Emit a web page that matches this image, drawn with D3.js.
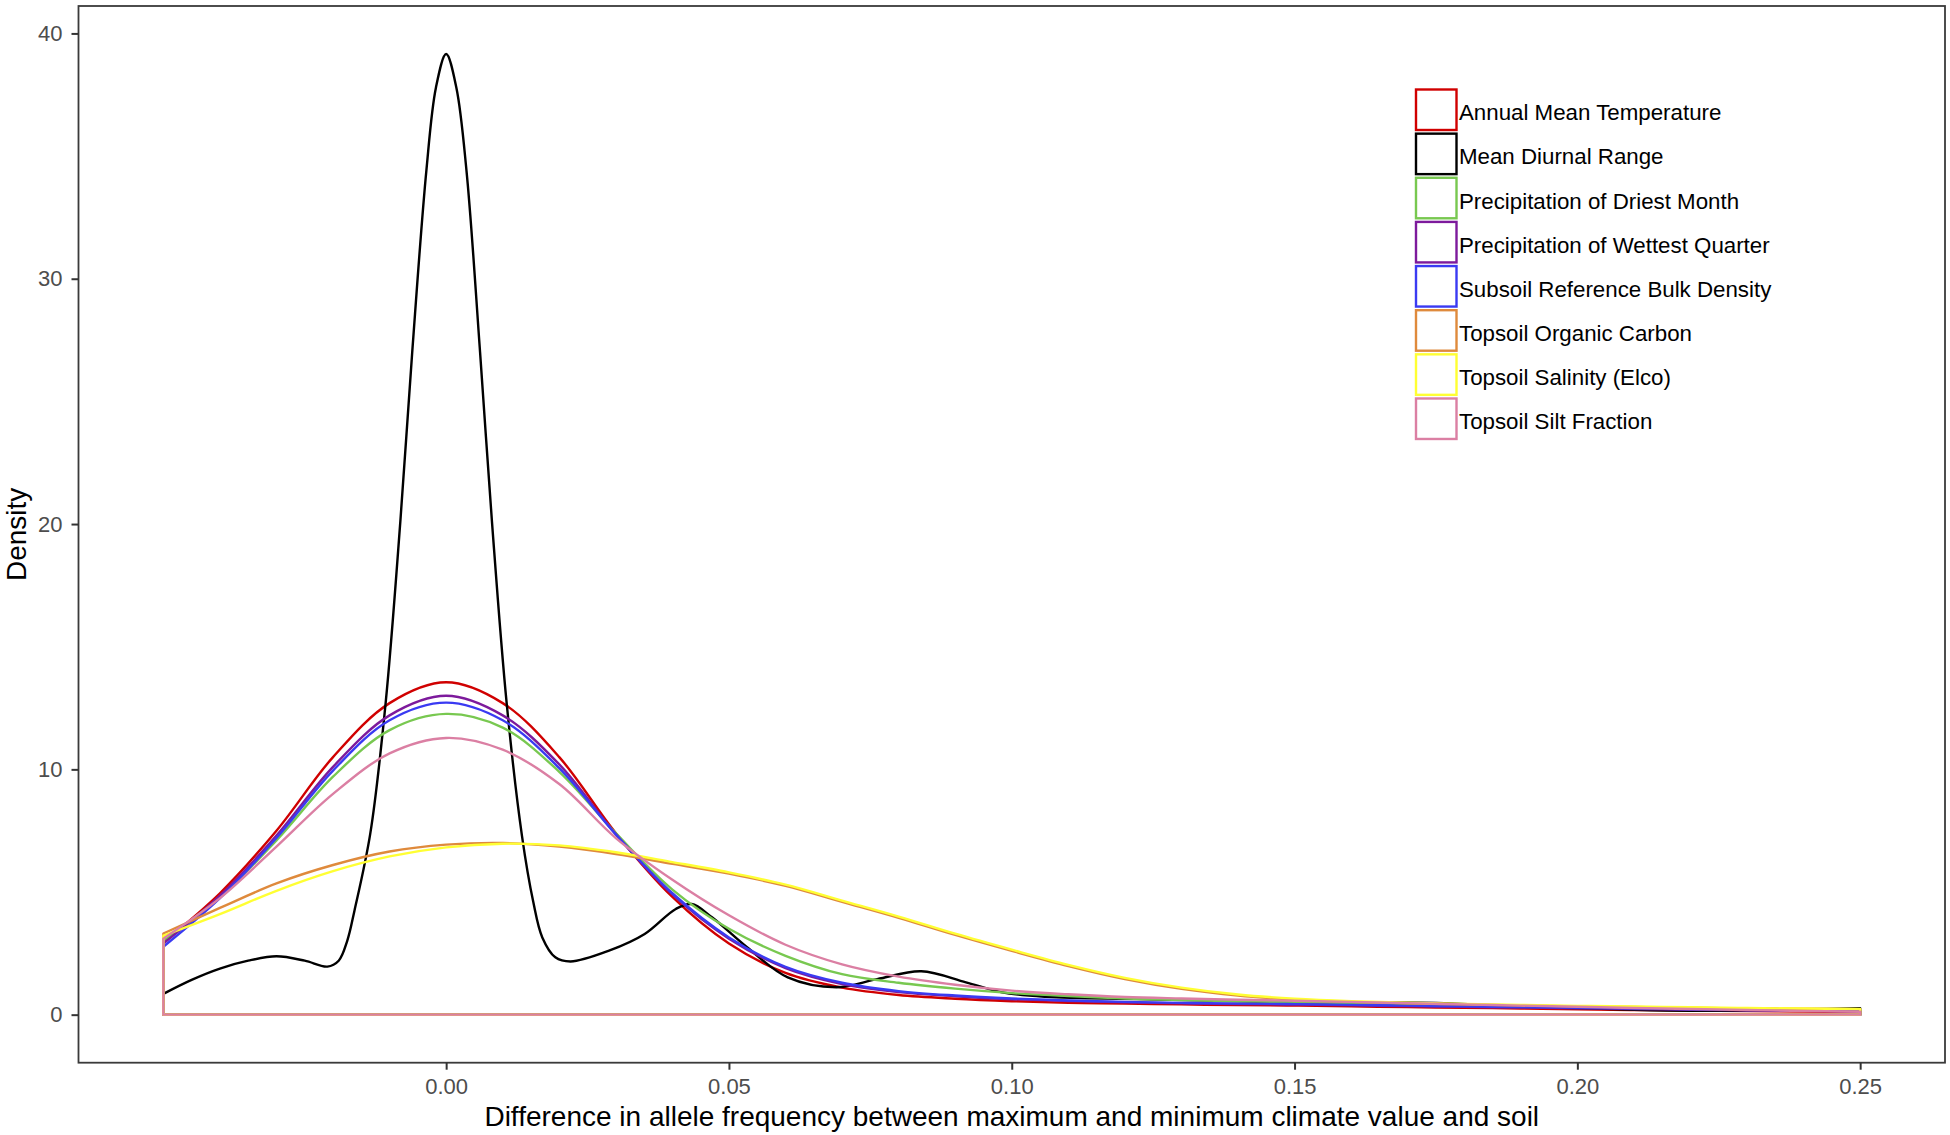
<!DOCTYPE html>
<html>
<head>
<meta charset="utf-8">
<script src="https://cdn.jsdelivr.net/npm/d3@7"></script>
<style>
  body { margin: 0; background: #fff; }
  svg { display: block; font-family: "Liberation Sans", Arial, sans-serif; }
</style>
</head>
<body>
<svg id="chart"></svg>
<script>

// legend order = draw order (ggplot draws the groups in factor order)
const seriesNames = [
  'Annual Mean Temperature',
  'Mean Diurnal Range',
  'Precipitation of Driest Month',
  'Precipitation of Wettest Quarter',
  'Subsoil Reference Bulk Density',
  'Topsoil Organic Carbon',
  'Topsoil Salinity (Elco)',
  'Topsoil Silt Fraction'
];
const seriesColors = ['#d00000', '#000000', '#78c850', '#7d1a9c', '#3a3af2', '#df8a3c', '#ffff33', '#db7fa3'];

// density estimates, x step 0.01
const xGrid = [-0.05, -0.04, -0.03, -0.02, -0.01, 0, 0.01, 0.02, 0.03, 0.04, 0.05, 0.06, 0.07, 0.08, 0.09, 0.10,
  0.11, 0.12, 0.13, 0.14, 0.15, 0.16, 0.17, 0.18, 0.19, 0.20, 0.21, 0.22, 0.23, 0.24, 0.25];

const annualMeanTemp = [2.95, 4.95, 7.5, 10.5, 12.7, 13.55, 12.7, 10.5, 7.4, 4.8, 2.9, 1.7, 1.1, 0.8, 0.65, 0.55,
  0.48, 0.45, 0.42, 0.39, 0.37, 0.34, 0.31, 0.28, 0.25, 0.22, 0.19, 0.17, 0.15, 0.13, 0.11];
const precipDriestMonth = [3.0, 4.8, 7.1, 9.7, 11.6, 12.26, 11.7, 9.9, 7.4, 5.1, 3.5, 2.4, 1.65, 1.3, 1.06, 0.88,
  0.76, 0.66, 0.6, 0.55, 0.51, 0.47, 0.43, 0.39, 0.35, 0.31, 0.28, 0.25, 0.22, 0.2, 0.18];
const precipWettestQuarter = [2.9, 4.85, 7.3, 10.1, 12.2, 13.0, 12.2, 10.2, 7.35, 4.9, 3.1, 1.9, 1.25, 0.92, 0.75, 0.63,
  0.56, 0.5, 0.46, 0.43, 0.41, 0.38, 0.35, 0.32, 0.29, 0.26, 0.23, 0.2, 0.18, 0.16, 0.14];
const subsoilBulkDensity = [2.77, 4.75, 7.2, 9.95, 12.0, 12.72, 12.0, 10.05, 7.35, 4.95, 3.15, 1.95, 1.3, 0.96, 0.78, 0.66,
  0.58, 0.52, 0.48, 0.45, 0.43, 0.4, 0.37, 0.34, 0.31, 0.28, 0.25, 0.22, 0.19, 0.17, 0.15];
const topsoilOrganicCarbon = [3.31, 4.35, 5.35, 6.1, 6.65, 6.93, 7.0, 6.85, 6.55, 6.15, 5.75, 5.25, 4.6, 3.95, 3.25, 2.6,
  1.98, 1.45, 1.05, 0.78, 0.62, 0.52, 0.46, 0.42, 0.38, 0.34, 0.31, 0.28, 0.26, 0.24, 0.22];
const topsoilSalinity = [3.22, 4.1, 5.05, 5.85, 6.45, 6.82, 6.97, 6.9, 6.62, 6.22, 5.8, 5.3, 4.65, 4.0, 3.3, 2.65,
  2.03, 1.5, 1.1, 0.82, 0.65, 0.55, 0.49, 0.44, 0.4, 0.36, 0.33, 0.3, 0.27, 0.25, 0.23];
const topsoilSiltFraction = [3.1, 4.75, 6.85, 9.0, 10.65, 11.28, 10.8, 9.4, 7.2, 5.5, 4.05, 2.85, 2.05, 1.55, 1.22, 0.98,
  0.83, 0.72, 0.66, 0.61, 0.57, 0.52, 0.47, 0.42, 0.37, 0.32, 0.27, 0.23, 0.19, 0.15, 0.12];

// the diurnal range curve is much spikier, so it gets its own denser grid
const diurnalX = [-0.05, -0.045, -0.04, -0.035, -0.03, -0.025, -0.021, -0.019, -0.0175, -0.0162, -0.0134, -0.0107,
  -0.0081, -0.006, -0.0035, -0.0018, 0, 0.0018, 0.0036, 0.006, 0.0081, 0.0107, 0.0134, 0.0154, 0.017, 0.0193, 0.022,
  0.0288, 0.0351, 0.0406, 0.0434, 0.047, 0.0532, 0.0604, 0.069, 0.0762, 0.084, 0.0919, 0.0983, 0.106, 0.122, 0.135,
  0.151, 0.165, 0.175, 0.19, 0.2, 0.21, 0.22, 0.23, 0.24, 0.25];
const meanDiurnalRange = [0.85, 1.42, 1.88, 2.2, 2.38, 2.2, 1.96, 2.2, 3.0, 4.25, 7.4, 12.7,
  20.1, 27.0, 34.4, 37.8, 39.16, 37.8, 34.4, 27.0, 20.1, 12.7, 7.3, 4.6, 3.15, 2.34, 2.17,
  2.61, 3.29, 4.31, 4.51, 3.97, 2.75, 1.52, 1.12, 1.45, 1.77, 1.32, 0.91, 0.73, 0.64, 0.58,
  0.5, 0.5, 0.48, 0.33, 0.27, 0.2, 0.16, 0.17, 0.22, 0.26];

const xTicks = [0, 0.05, 0.10, 0.15, 0.20, 0.25];
const yTicks = [0, 10, 20, 30, 40];

const xTitle = 'Difference in allele frequency between maximum and minimum climate value and soil';
const yTitle = 'Density';

// ---- build series
const zip = (xs, ys) => xs.map((d, i) => [d, ys[i]]);
const series = [
  zip(xGrid, annualMeanTemp),
  zip(diurnalX, meanDiurnalRange),
  zip(xGrid, precipDriestMonth),
  zip(xGrid, precipWettestQuarter),
  zip(xGrid, subsoilBulkDensity),
  zip(xGrid, topsoilOrganicCarbon),
  zip(xGrid, topsoilSalinity),
  zip(xGrid, topsoilSiltFraction)
].map((values, i) => ({ name: seriesNames[i], color: seriesColors[i], values }));

const W = 1950, H = 1135;
const panel = { left: 78.5, right: 1945, top: 6, bottom: 1062.7 };

const svg = d3.select('#chart')
  .attr('width', W)
  .attr('height', H);

// scales, padded 5% each side like ggplot does
const allPts = series.flatMap(s => s.values);
const xExt = d3.extent(allPts, d => d[0]);
const yMax = d3.max(allPts, d => d[1]);
const xPad = (xExt[1] - xExt[0]) * 0.05;

const x = d3.scaleLinear()
  .domain([xExt[0] - xPad, xExt[1] + xPad])
  .range([panel.left, panel.right]);

const y = d3.scaleLinear()
  .domain([-yMax * 0.05, yMax * 1.05])
  .range([panel.bottom, panel.top]);

// density outlines (closed polygon down to zero, no fill)
const area = d3.area()
  .x(d => x(d[0]))
  .y0(y(0))
  .y1(d => y(d[1]))
  .curve(d3.curveCatmullRom.alpha(0.5));

svg.append('g')
  .selectAll('path')
  .data(series)
  .join('path')
    .attr('d', d => area(d.values))
    .attr('fill', 'none')
    .attr('stroke', d => d.color)
    .attr('stroke-width', 2.4)
    .attr('stroke-linejoin', 'round');

// panel border
svg.append('rect')
  .attr('x', panel.left)
  .attr('y', panel.top)
  .attr('width', panel.right - panel.left)
  .attr('height', panel.bottom - panel.top)
  .attr('fill', 'none')
  .attr('stroke', '#3a3a3a')
  .attr('stroke-width', 1.8);

// axes
const xAxisG = svg.append('g')
  .attr('transform', `translate(0,${panel.bottom})`)
  .call(d3.axisBottom(x).tickValues(xTicks).tickFormat(d3.format('.2f')).tickSize(7).tickPadding(9));

const yAxisG = svg.append('g')
  .attr('transform', `translate(${panel.left},0)`)
  .call(d3.axisLeft(y).tickValues(yTicks).tickSize(7).tickPadding(9));

[xAxisG, yAxisG].forEach(g => {
  g.select('.domain').remove();
  g.selectAll('.tick line').attr('stroke', '#333').attr('stroke-width', 2);
  g.selectAll('.tick text')
    .attr('fill', '#4d4d4d')
    .style('font-size', '22px')
    .style('font-family', '"Liberation Sans", Arial, sans-serif');
});

// axis titles
svg.append('text')
  .attr('x', (panel.left + panel.right) / 2)
  .attr('y', 1126)
  .attr('text-anchor', 'middle')
  .style('font-size', '28px')
  .attr('fill', '#000')
  .text(xTitle);

svg.append('text')
  .attr('transform', `translate(26,${(panel.top + panel.bottom) / 2}) rotate(-90)`)
  .attr('text-anchor', 'middle')
  .style('font-size', '28px')
  .attr('fill', '#000')
  .text(yTitle);

// legend
const legend = { x: 1416, y: 89.5, key: 40.5, step: 44.14 };

const keys = svg.append('g')
  .selectAll('g')
  .data(series)
  .join('g')
    .attr('transform', (d, i) => `translate(${legend.x},${legend.y + i * legend.step})`);

keys.append('rect')
  .attr('width', legend.key)
  .attr('height', legend.key)
  .attr('fill', '#fff')
  .attr('stroke', d => d.color)
  .attr('stroke-width', 2.4);

keys.append('text')
  .attr('x', legend.key + 2.5)
  .attr('y', 30.8)
  .style('font-size', '22.3px')
  .attr('fill', '#000')
  .text(d => d.name);

</script>
</body>
</html>
